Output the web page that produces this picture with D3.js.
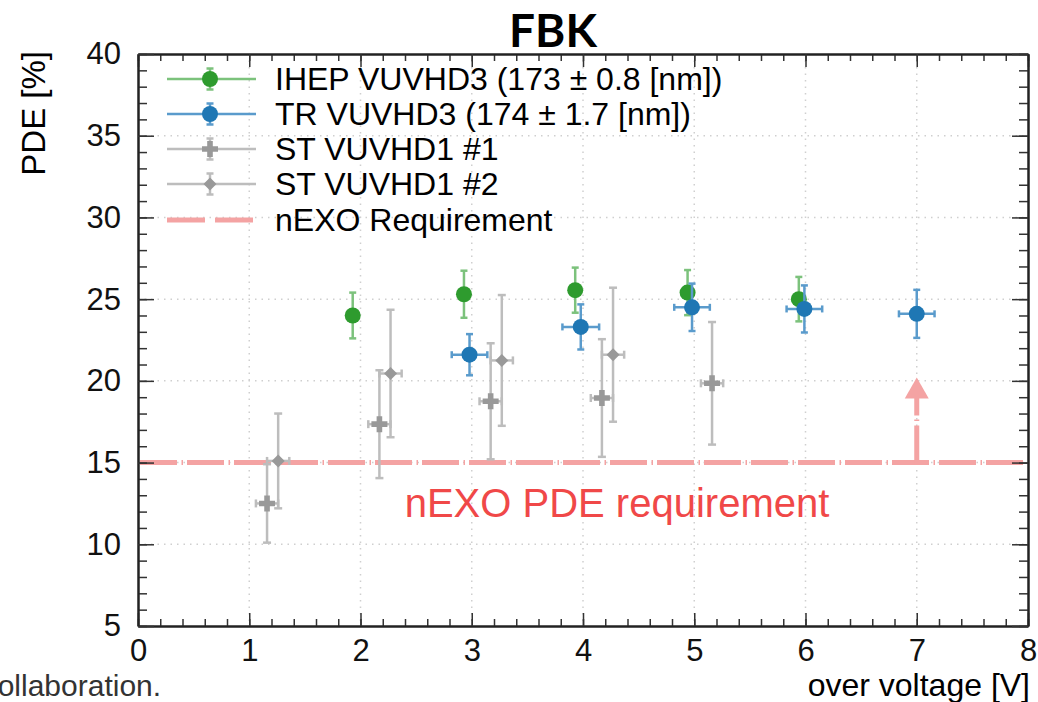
<!DOCTYPE html>
<html>
<head>
<meta charset="utf-8">
<script src="https://d3js.org/d3.v7.min.js"></script>
<style>
  body { margin: 0; background: #fff; overflow: hidden; }
  #chart { width: 1038px; height: 702px; }
  text { font-family: "Liberation Sans", Arial, Helvetica, sans-serif; }
</style>
</head>
<body>
<div id="chart"></div>
<script>
// data
var xTicks = [0, 1, 2, 3, 4, 5, 6, 7, 8];
var yTicks = [5, 10, 15, 20, 25, 30, 35, 40];

var ihepX = [1.93, 2.93, 3.93, 4.94, 5.94];
var ihepY = [24.0, 25.3, 25.55, 25.4, 25.0];
var ihepErr = [1.4, 1.44, 1.38, 1.38, 1.36];

var trX = [2.98, 3.98, 4.98, 5.99, 7.0];
var trY = [21.6, 23.3, 24.5, 24.4, 24.1];
var trErr = [1.26, 1.38, 1.45, 1.44, 1.47];
var trErrX = [0.16, 0.165, 0.16, 0.16, 0.16];

var st1X = [1.16, 2.17, 3.17, 4.17, 5.16];
var st1Y = [12.5, 17.35, 18.75, 18.95, 19.85];
var st1Err = [2.4, 3.3, 3.55, 3.6, 3.75];

var st2X = [1.26, 2.27, 3.27, 4.27];
var st2Y = [15.1, 20.45, 21.25, 21.6];
var st2Err = [2.9, 3.9, 4.0, 4.1];
var stErrX = 0.1;

var requirement = 15;
var arrowX = 7, arrowTo = 20.2;

var legendLabels = ["IHEP VUVHD3 (173 \u00b1 0.8 [nm])", "TR VUVHD3 (174 \u00b1 1.7 [nm])",
  "ST VUVHD1 #1", "ST VUVHD1 #2", "nEXO Requirement"];

var green = "#2e9b2e", greenErr = "#7cc27c";
var blue = "#1f77b4", blueErr = "#5a9bcc";
var grey = "#999999", greyErr = "#bdbdbd";
var pink = "#f4a3a3";
var dashes = "37,4.5,1.5,4";

function zip(xs, ys, es, exs) {
  return xs.map(function (d, i) {
    return { x: d, y: ys[i], e: es[i], ex: exs ? (Array.isArray(exs) ? exs[i] : exs) : 0 };
  });
}

var svg = d3.select("#chart").append("svg")
  .attr("width", 1038)
  .attr("height", 702);

var x = d3.scaleLinear().domain([0, 8]).range([138, 1028]);
var y = d3.scaleLinear().domain([5, 40]).range([626, 54]);

// grid
svg.append("g").selectAll("line").data(xTicks.slice(1, -1)).enter().append("line")
  .attr("x1", function (d) { return x(d); }).attr("x2", function (d) { return x(d); })
  .attr("y1", y(40)).attr("y2", y(5))
  .attr("stroke", "#cfcfcf").attr("stroke-width", 1.5).attr("stroke-dasharray", "1.5,5");
svg.append("g").selectAll("line").data(yTicks.slice(1, -1)).enter().append("line")
  .attr("y1", function (d) { return y(d); }).attr("y2", function (d) { return y(d); })
  .attr("x1", x(0)).attr("x2", x(8))
  .attr("stroke", "#cfcfcf").attr("stroke-width", 1.5).attr("stroke-dasharray", "1.5,5");

// requirement line and arrow
svg.append("line")
  .attr("x1", x(0) + 2).attr("x2", x(8) - 2)
  .attr("y1", y(requirement)).attr("y2", y(requirement))
  .attr("stroke", pink).attr("stroke-width", 5).attr("stroke-dasharray", dashes);
svg.append("line")
  .attr("x1", x(arrowX)).attr("x2", x(arrowX))
  .attr("y1", y(requirement)).attr("y2", y(arrowTo) + 20)
  .attr("stroke", pink).attr("stroke-width", 5).attr("stroke-dasharray", dashes);
svg.append("path")
  .attr("d", "M" + x(arrowX) + "," + y(arrowTo) +
    "L" + (x(arrowX) - 12) + "," + (y(arrowTo) + 21) +
    "L" + (x(arrowX) + 12) + "," + (y(arrowTo) + 21) + "Z")
  .attr("fill", pink);

svg.append("text")
  .attr("x", 617).attr("y", 517)
  .attr("text-anchor", "middle")
  .attr("font-size", 40)
  .attr("fill", "#f04848")
  .text("nEXO PDE requirement");

// error bars
function errorBars(data, color, capW) {
  var g = svg.append("g").attr("stroke", color).attr("stroke-width", 2.5).attr("fill", "none");
  data.forEach(function (d) {
    var cx = x(d.x), cy = y(d.y);
    g.append("line").attr("x1", cx).attr("x2", cx).attr("y1", y(d.y + d.e)).attr("y2", y(d.y - d.e));
    g.append("line").attr("x1", cx - capW).attr("x2", cx + capW).attr("y1", y(d.y + d.e)).attr("y2", y(d.y + d.e));
    g.append("line").attr("x1", cx - capW).attr("x2", cx + capW).attr("y1", y(d.y - d.e)).attr("y2", y(d.y - d.e));
    if (d.ex) {
      g.append("line").attr("x1", x(d.x - d.ex)).attr("x2", x(d.x + d.ex)).attr("y1", cy).attr("y2", cy);
      g.append("line").attr("x1", x(d.x - d.ex)).attr("x2", x(d.x - d.ex)).attr("y1", cy - capW).attr("y2", cy + capW);
      g.append("line").attr("x1", x(d.x + d.ex)).attr("x2", x(d.x + d.ex)).attr("y1", cy - capW).attr("y2", cy + capW);
    }
  });
}

var st1 = zip(st1X, st1Y, st1Err, stErrX);
var st2 = zip(st2X, st2Y, st2Err, stErrX);
var ihep = zip(ihepX, ihepY, ihepErr);
var tr = zip(trX, trY, trErr, trErrX);

errorBars(st1, greyErr, 4);
errorBars(st2, greyErr, 4);

var crossPath = "M-8,-2.8H-2.8V-8H2.8V-2.8H8V2.8H2.8V8H-2.8V2.8H-8Z";
var diamondPath = "M0,-6.5L6.5,0L0,6.5L-6.5,0Z";

svg.append("g").selectAll("path").data(st1).enter().append("path")
  .attr("transform", function (d) { return "translate(" + x(d.x) + "," + y(d.y) + ")"; })
  .attr("d", crossPath).attr("fill", grey);
svg.append("g").selectAll("path").data(st2).enter().append("path")
  .attr("transform", function (d) { return "translate(" + x(d.x) + "," + y(d.y) + ")"; })
  .attr("d", diamondPath).attr("fill", grey);

errorBars(ihep, greenErr, 3.5);
svg.append("g").selectAll("circle").data(ihep).enter().append("circle")
  .attr("cx", function (d) { return x(d.x); })
  .attr("cy", function (d) { return y(d.y); })
  .attr("r", 8).attr("fill", green);

errorBars(tr, blueErr, 3.5);
svg.append("g").selectAll("circle").data(tr).enter().append("circle")
  .attr("cx", function (d) { return x(d.x); })
  .attr("cy", function (d) { return y(d.y); })
  .attr("r", 8).attr("fill", blue);

// axes, ROOT style ticks inside the frame
function styleAxis(g) {
  g.select(".domain").attr("stroke", "#222").attr("stroke-width", 2);
  g.selectAll(".tick line").attr("stroke", "#333").attr("stroke-width", 1.5);
  g.selectAll("text").attr("font-size", 31).attr("fill", "#111")
    .attr("font-family", "'Liberation Sans', Arial, sans-serif");
}
var minorX = d3.range(0, 8.001, 0.2);
var minorY = d3.range(5, 40.001, 1);

svg.append("g").attr("transform", "translate(0," + y(5) + ")")
  .call(d3.axisBottom(x).tickValues(minorX).tickSize(-7).tickFormat("").tickSizeOuter(0)).call(styleAxis);
svg.append("g").attr("transform", "translate(0," + y(5) + ")")
  .call(d3.axisBottom(x).tickValues(xTicks).tickSize(-13).tickPadding(13).tickSizeOuter(0)).call(styleAxis);
svg.append("g").attr("transform", "translate(0," + y(40) + ")")
  .call(d3.axisTop(x).tickValues(minorX).tickSize(-7).tickFormat("").tickSizeOuter(0)).call(styleAxis);
svg.append("g").attr("transform", "translate(0," + y(40) + ")")
  .call(d3.axisTop(x).tickValues(xTicks).tickSize(-13).tickFormat("").tickSizeOuter(0)).call(styleAxis);

svg.append("g").attr("transform", "translate(" + x(0) + ",0)")
  .call(d3.axisLeft(y).tickValues(minorY).tickSize(-9).tickFormat("").tickSizeOuter(0)).call(styleAxis);
svg.append("g").attr("transform", "translate(" + x(0) + ",0)")
  .call(d3.axisLeft(y).tickValues(yTicks).tickSize(-16).tickPadding(17).tickSizeOuter(0)).call(styleAxis);
svg.append("g").attr("transform", "translate(" + x(8) + ",0)")
  .call(d3.axisRight(y).tickValues(minorY).tickSize(-9).tickFormat("").tickSizeOuter(0)).call(styleAxis);
svg.append("g").attr("transform", "translate(" + x(8) + ",0)")
  .call(d3.axisRight(y).tickValues(yTicks).tickSize(-16).tickFormat("").tickSizeOuter(0)).call(styleAxis);

// titles
svg.append("text")
  .attr("x", 553).attr("y", 46.5)
  .attr("text-anchor", "middle")
  .attr("font-size", 46).attr("font-weight", "bold")
  .style("font-family", "Lato, 'Noto Sans', sans-serif")
  .text("FBK");

svg.append("text")
  .attr("transform", "translate(45,51) rotate(-90)")
  .attr("text-anchor", "end")
  .attr("font-size", 33)
  .text("PDE [%]");

svg.append("text")
  .attr("x", 1030).attr("y", 696)
  .attr("text-anchor", "end")
  .attr("font-size", 32)
  .text("over voltage [V]");

// credit line, cut by the left edge as in the original
svg.append("text")
  .attr("x", -24).attr("y", 696)
  .attr("font-size", 30)
  .attr("fill", "#333")
  .text("Collaboration.");

// legend
var legendY = [79, 114, 149, 184, 220];
var lx0 = 167, lx1 = 256, lm = 210;
var leg = svg.append("g");
var legColors = [greenErr, blueErr, greyErr, greyErr];
legColors.forEach(function (c, i) {
  leg.append("line").attr("x1", lx0).attr("x2", lx1).attr("y1", legendY[i]).attr("y2", legendY[i])
    .attr("stroke", c).attr("stroke-width", 2.5);
  leg.append("line").attr("x1", lm).attr("x2", lm).attr("y1", legendY[i] - 10.5).attr("y2", legendY[i] + 10.5)
    .attr("stroke", c).attr("stroke-width", 2.5);
  [-10.5, 10.5].forEach(function (o) {
    leg.append("line").attr("x1", lm - 3.5).attr("x2", lm + 3.5).attr("y1", legendY[i] + o).attr("y2", legendY[i] + o)
      .attr("stroke", c).attr("stroke-width", 2.5);
  });
});
leg.append("circle").attr("cx", lm).attr("cy", legendY[0]).attr("r", 8).attr("fill", green);
leg.append("circle").attr("cx", lm).attr("cy", legendY[1]).attr("r", 8).attr("fill", blue);
leg.append("path").attr("transform", "translate(" + lm + "," + legendY[2] + ")").attr("d", crossPath).attr("fill", grey);
leg.append("path").attr("transform", "translate(" + lm + "," + legendY[3] + ")").attr("d", diamondPath).attr("fill", grey);
leg.append("line").attr("x1", lx0).attr("x2", lx1).attr("y1", legendY[4]).attr("y2", legendY[4])
  .attr("stroke", pink).attr("stroke-width", 5).attr("stroke-dasharray", "38,10");

leg.selectAll("text").data(legendLabels).enter().append("text")
  .attr("x", 275)
  .attr("y", function (d, i) { return legendY[i]; })
  .attr("dy", "0.35em")
  .attr("font-size", 32)
  .text(function (d) { return d; });
</script>
</body>
</html>
